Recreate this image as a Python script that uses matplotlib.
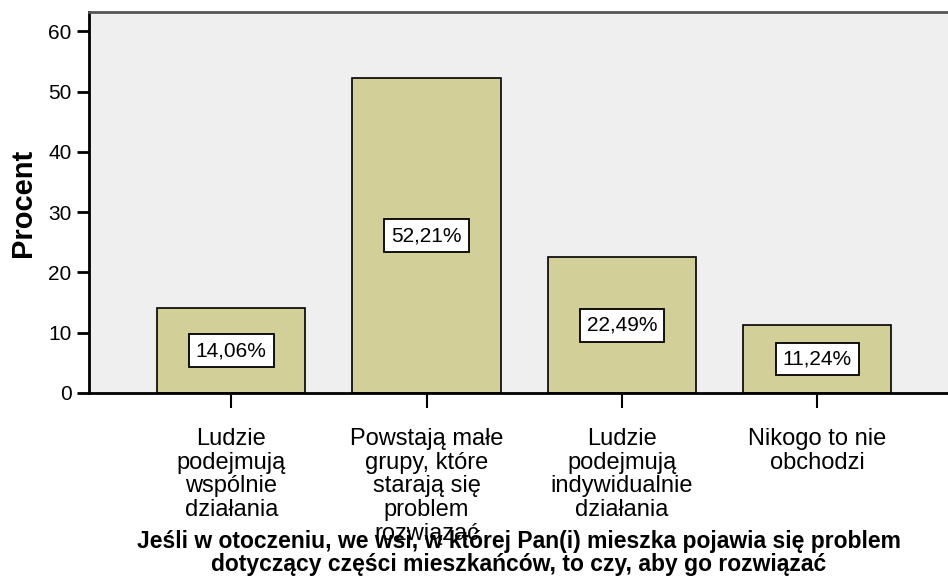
import matplotlib.pyplot as plt

categories = ["Ludzie\npodejmują\nwspólnie\ndziałania",
              "Powstają małe\ngrupy, które\nstarają się\nproblem\nrozwiązać",
              "Ludzie\npodejmują\nindywidualnie\ndziałania",
              "Nikogo to nie\nobchodzi"]
values = [14.06, 52.21, 22.49, 11.24]
labels = ["14,06%", "52,21%", "22,49%", "11,24%"]
yticks = [0, 10, 20, 30, 40, 50, 60]

plt.rcParams['font.family'] = ['Liberation Sans', 'DejaVu Sans']

fig = plt.figure(figsize=(9.48, 5.79), dpi=100)
ax = fig.add_axes([89/948, 1-393/579, 1-89/948, (393-12)/579])
ax.set_facecolor('#efefef')

x = range(len(values))
ax.bar(x, values, width=0.76, color='#d3cf99', edgecolor='black', linewidth=1.2, zorder=2)
for xi, v, lab in zip(x, values, labels):
    ax.text(xi, v/2, lab, ha='center', va='center', fontsize=15,
            bbox=dict(boxstyle='square,pad=0.33', fc='white', ec='black', lw=1.3), zorder=3)

ax.set_xlim(-0.728, 3.67)
ax.set_ylim(0, 63.2)
ax.set_yticks(yticks)
ax.set_yticklabels([str(t) for t in yticks], fontsize=15)
ax.set_xticks(list(x))
ax.set_xticklabels([])
for xi, c in zip(x, categories):
    ax.text(xi, -5.8, c, ha='center', va='top', fontsize=17,
            linespacing=1.1, clip_on=False)

ax.tick_params(axis='y', length=9, width=2, pad=3.5)
ax.tick_params(axis='x', length=11, width=1.5)
ax.spines['left'].set_linewidth(2)
ax.spines['bottom'].set_linewidth(2)
ax.spines['top'].set_color('#555555')
ax.spines['top'].set_linewidth(2)
ax.spines['right'].set_visible(False)

ax.set_ylabel("Procent", fontsize=21, fontweight='bold', labelpad=8)
fig.text(0.5 + 89/948/2, 1 - 553/579,
         "Jeśli w otoczeniu, we wsi, w której Pan(i) mieszka pojawia się problem\n"
         "dotyczący części mieszkańców, to czy, aby go rozwiązać",
         ha='center', va='center', fontsize=16.5, fontweight='bold', linespacing=0.98)

fig.savefig("out.png", dpi=100)
